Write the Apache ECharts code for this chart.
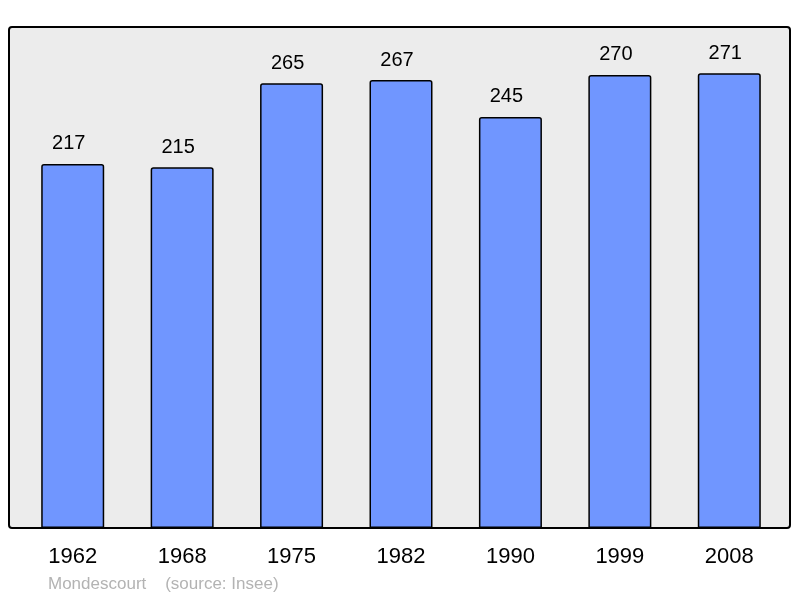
<!DOCTYPE html>
<html style="height: 100%">
<head>
    <meta charset="utf-8">
</head>
<body style="height: 100%; margin: 0; background-color: #fff;">
<div id="container" style="width: 800px; height: 598px;"></div>
<script type="text/javascript" src="https://cdn.jsdelivr.net/npm/echarts@6/dist/echarts.min.js"></script>
<script type="text/javascript">
var years = ['1962', '1968', '1975', '1982', '1990', '1999', '2008'];
var population = [217, 215, 265, 267, 245, 270, 271];
var footerText = 'Mondescourt    (source: Insee)';

var chart = echarts.init(document.getElementById('container'));

var option = {
    animation: false,
    grid: {
        left: 18,
        right: 16,
        top: 28,
        bottom: 70
    },
    graphic: [{
        type: 'rect',
        z: -1,
        shape: { x: 9, y: 27, width: 781, height: 501, r: 3 },
        style: { fill: '#ececec', stroke: '#000', lineWidth: 2 }
    }, {
        type: 'text',
        left: 48,
        top: 576,
        style: {
            text: footerText,
            fill: '#b3b3b3',
            font: '17px "Liberation Sans", Arial, sans-serif'
        }
    }],
    xAxis: {
        type: 'category',
        data: years,
        axisLine: { show: false },
        axisTick: { show: false },
        axisLabel: {
            margin: 18,
            color: '#000',
            fontSize: 22,
            fontFamily: '"Liberation Sans", Arial, sans-serif'
        }
    },
    yAxis: {
        type: 'value',
        min: 0,
        max: 298,
        show: false
    },
    series: [{
        type: 'bar',
        data: population,
        barWidth: 63,
        itemStyle: {
            color: '#7096ff',
            borderColor: '#000',
            borderWidth: 1.5,
            borderRadius: [2, 2, 0, 0]
        },
        label: {
            show: true,
            position: 'top',
            distance: 10,
            offset: [-4, 0],
            color: '#000',
            fontSize: 20,
            fontFamily: '"Liberation Sans", Arial, sans-serif'
        }
    }]
};

chart.setOption(option);
</script>
</body>
</html>
